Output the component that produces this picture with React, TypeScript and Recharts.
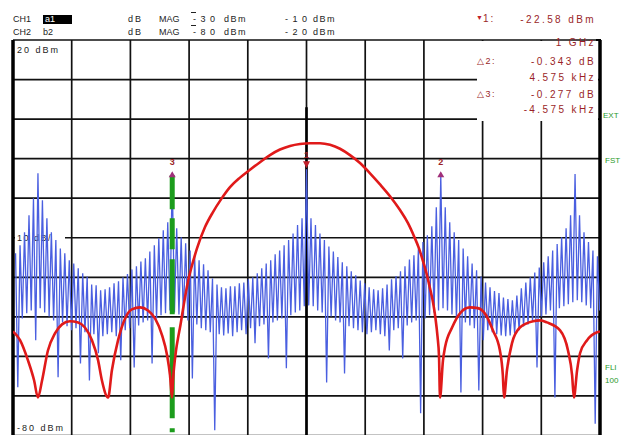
import React from 'react';
import {
  ComposedChart,
  Line,
  XAxis,
  YAxis,
  CartesianGrid,
  ReferenceLine,
  Scatter,
  Customized,
} from 'recharts';

// Frequency axis: offset from 1 GHz centre, in kHz (span 20 kHz, 2 kHz/div)
const xTicks = [-10, -8, -6, -4, -2, 0, 2, 4, 6, 8, 10];
// Amplitude axis: 20 dBm top, 10 dB/div, -80 dBm bottom
const yTicks = [-80, -70, -60, -50, -40, -30, -20, -10, 0, 10, 20];

// Sweep of the comb trace (CH1, blue)
const SWEEP_START = -9.9125; // kHz
const SWEEP_STEP = 0.1525; // kHz between comb lines

// upper value of each comb line (dBm)
const blueTops = [
  -33.9, -31.9, -28.6, -24.3, -20.0, -13.7, -20.5, -25.1, -28.6, -30.6,
  -32.7, -33.9, -35.7, -36.5, -37.7, -39.0, -39.8, -41.8, -42.0, -43.3,
  -43.0, -42.5, -41.5, -41.0, -40.0, -39.2, -38.0, -37.2, -36.0, -35.2,
  -33.5, -31.9, -30.1, -28.1, -26.1, -14.2, -27.6, -29.9, -31.4, -33.2,
  -34.4, -35.7, -36.7, -38.2, -40.3, -41.8, -42.5, -42.8, -42.3, -42.3,
  -41.5, -41.3, -40.5, -40.0, -39.0, -37.7, -36.5, -35.7, -34.2, -33.2,
  -31.9, -30.6, -28.9, -26.8, -25.1, -12.7, -25.1, -26.8, -28.9, -30.6,
  -32.2, -33.5, -34.9, -36.2, -37.2, -38.5, -39.5, -40.8, -41.5, -42.5,
  -43.0, -43.3, -42.8, -41.8, -40.5, -39.7, -38.5, -37.2, -35.5, -34.4,
  -32.7, -31.1, -29.4, -27.1, -22.3, -14.2, -22.3, -26.1, -28.6, -30.6,
  -32.7, -34.7, -36.5, -38.2, -39.8, -41.3, -42.5, -43.5, -44.0, -45.1,
  -45.5, -45.8, -44.6, -42.8, -41.3, -40.0, -38.8, -37.5, -36.2, -34.7,
  -33.2, -31.6, -29.9, -27.6, -24.3, -13.9, -24.3, -28.6, -31.1, -33.2,
  -34.7,
];

// lower value of each comb line (dBm)
const blueLows = [
  -67.8, -50.4, -49.1, -48.4, -55.9, -47.8, -48.9, -49.9, -50.9, -65.3,
  -51.4, -52.4, -53.4, -52.9, -61.8, -53.9, -66.1, -54.4, -59.2, -54.9,
  -54.4, -53.9, -54.9, -61.0, -53.4, -52.9, -62.8, -52.2, -51.4, -50.9,
  -61.8, -50.4, -49.6, -49.1, -48.4, -48.9, -49.4, -49.9, -50.9, -65.6,
  -51.9, -52.9, -53.4, -53.9, -78.7, -54.4, -54.7, -54.2, -54.9, -53.9,
  -53.4, -54.4, -52.9, -56.7, -52.4, -51.9, -60.5, -51.4, -50.9, -50.4,
  -63.0, -49.6, -48.9, -48.4, -47.3, -47.1, -47.3, -48.4, -48.9, -66.6,
  -49.9, -50.9, -51.4, -64.3, -52.4, -52.9, -53.4, -53.9, -54.4, -53.9,
  -53.4, -54.4, -54.9, -58.5, -53.4, -52.9, -60.5, -52.2, -51.4, -50.9,
  -74.4, -50.4, -49.6, -48.9, -48.4, -47.8, -48.4, -49.4, -50.4, -69.1,
  -51.4, -52.2, -52.9, -68.6, -55.9, -53.4, -53.9, -54.4, -54.7, -54.9,
  -54.7, -54.2, -53.4, -52.4, -51.9, -50.9, -62.8, -49.9, -49.4, -48.4,
  -70.4, -47.8, -47.3, -46.8, -46.3, -45.8, -46.3, -47.1, -47.8, -77.0,
  -48.4,
];

// CH2 (red) trace, [kHz, dBm]
const redTrace: [number, number][] = [
  [-10.0, -53.7], [-9.76, -55.9], [-9.49, -61.0], [-9.28, -66.1], [-9.15, -70.4],
  [-9.01, -66.1], [-8.81, -58.5], [-8.57, -54.2], [-8.33, -51.9], [-8.06, -51.1],
  [-7.78, -51.4], [-7.55, -52.7], [-7.31, -55.9], [-7.10, -61.0], [-6.97, -66.1],
  [-6.76, -70.4], [-6.63, -63.5], [-6.42, -55.9], [-6.18, -50.4], [-5.95, -48.1],
  [-5.67, -47.6], [-5.40, -48.4], [-5.16, -50.4], [-4.92, -54.7], [-4.75, -59.7],
  [-4.65, -64.8], [-4.583, -70.4],
  [-4.549, -66.1], [-4.515, -63.0], [-4.446, -58.5], [-4.378, -55.4], [-4.310, -52.7],
  [-4.174, -46.6], [-4.037, -41.0], [-3.901, -37.0], [-3.731, -32.7], [-3.458, -27.3],
  [-3.186, -23.5], [-2.913, -20.3], [-2.606, -17.2], [-2.266, -14.8], [-1.925, -12.8],
  [-1.584, -10.9], [-1.244, -9.1], [-0.903, -7.7], [-0.562, -6.8], [-0.221, -6.3],
  [0.119, -6.1], [0.460, -6.1], [0.801, -6.5], [1.141, -7.5], [1.482, -9.1],
  [1.823, -11.1], [2.164, -13.7], [2.504, -16.5], [2.845, -19.5], [3.186, -23.0],
  [3.458, -26.3], [3.663, -29.6], [3.833, -32.7], [3.969, -35.9], [4.106, -39.5],
  [4.208, -42.8], [4.310, -46.3], [4.395, -50.4], [4.463, -54.9], [4.515, -60.0],
  [4.549, -70.4],
  [4.65, -61.0], [4.72, -57.7], [4.96, -52.7], [5.23, -49.1], [5.57, -47.6],
  [5.84, -47.8], [6.12, -49.6], [6.35, -53.4], [6.59, -58.5], [6.69, -64.8],
  [6.73, -70.4], [6.83, -63.5], [7.00, -56.7], [7.27, -52.7], [7.72, -51.1],
  [7.96, -50.9], [8.19, -51.4], [8.64, -53.4], [8.91, -58.5], [9.05, -64.8],
  [9.11, -70.4], [9.22, -63.5], [9.32, -59.2], [9.56, -55.9], [9.90, -53.9],
  [10.0, -53.7],
];

// markers: number, frequency offset (kHz), level (dBm), symbol direction
const markerNames = ['1', '2', '3'];
const markerFreqs = [0, 4.575, -4.575];
const markerLevels = [-12.7, -14.2, -14.2];
const markerDirs = ['down', 'up', 'up'];

const blueData = blueTops.flatMap((top, i) => [
  { f: SWEEP_START + i * SWEEP_STEP, v: top },
  { f: SWEEP_START + (i + 0.5) * SWEEP_STEP, v: blueLows[i] },
]);
const redData = redTrace.map(([f, v]) => ({ f, v }));
const markerData = markerNames.map((n, i) => ({
  f: markerFreqs[i],
  v: markerLevels[i],
  n,
  dir: markerDirs[i],
}));

const MARK = '#9a1f28';

const MarkerShape = (props: any) => {
  const { cx, cy, payload } = props;
  if (cx == null || cy == null) return null;
  if (payload.dir === 'down') {
    return (
      <g>
        <text x={cx} y={cy - 11} textAnchor="middle" fontSize={9} fontFamily="Liberation Sans, Arial" fontWeight="bold" fill={MARK}>
          {payload.n}
        </text>
        <polygon points={`${cx - 3.5},${cy - 8} ${cx + 3.5},${cy - 8} ${cx},${cy - 1}`} fill="#c0202a" />
      </g>
    );
  }
  return (
    <g>
      <text x={cx} y={cy - 10} textAnchor="middle" fontSize={9} fontFamily="Liberation Sans, Arial" fontWeight="bold" fill={MARK}>
        {payload.n}
      </text>
      <polygon points={`${cx - 3.5},${cy + 2} ${cx + 3.5},${cy + 2} ${cx},${cy - 4}`} fill="#a0307a" />
    </g>
  );
};

const ScaleLabel = () => (
  <g>
    <rect x={15} y={232} width={50} height={11} fill="#fff" />
    <text x={17} y={241} fontSize={9} fontFamily="Liberation Sans, Arial" fill="#222" letterSpacing={1.5}>
      10 dB/
    </text>
  </g>
);

const txt = (s: string, left: number, top: number, extra: React.CSSProperties = {}) => (
  <div
    style={{
      position: 'absolute',
      left,
      top,
      fontSize: 9,
      lineHeight: '10px',
      whiteSpace: 'pre',
      color: '#222',
      ...extra,
    }}
  >
    {s}
  </div>
);

const rtxt = (s: string, right: number, top: number, extra: React.CSSProperties = {}) => (
  <div
    style={{
      position: 'absolute',
      right: 621 - right,
      top,
      fontSize: 10,
      lineHeight: '11px',
      whiteSpace: 'pre',
      color: MARK,
      letterSpacing: 2.4,
      ...extra,
    }}
  >
    {s}
  </div>
);

export default function App() {
  return (
    <div
      style={{
        position: 'absolute',
        left: 0,
        top: 0,
        width: 621,
        height: 435,
        overflow: 'hidden',
        background: '#fff',
        fontFamily: 'Liberation Sans, Arial, sans-serif',
      }}
    >
      <ComposedChart width={621} height={440} margin={{ top: 40, right: 21, bottom: 4.5, left: 13 }}>
        <XAxis type="number" dataKey="f" domain={[-10, 10]} ticks={xTicks} hide allowDataOverflow />
        <YAxis type="number" dataKey="v" domain={[-80, 20]} ticks={yTicks} hide allowDataOverflow />
        <CartesianGrid stroke="#111" strokeWidth={1.7} />
        <Customized component={ScaleLabel} />
        <ReferenceLine x={-10} stroke="#000" strokeWidth={3.5} />
        <ReferenceLine x={10} stroke="#000" strokeWidth={3.5} />
        <ReferenceLine
          segment={[{ x: 0, y: -80 }, { x: 0, y: 3 }]}
          stroke="#000"
          strokeWidth={2.6}
        />
        <Line
          data={blueData}
          dataKey="v"
          type="linear"
          stroke="#4a5fe0"
          strokeWidth={1.3}
          dot={false}
          isAnimationActive={false}
        />
        <ReferenceLine
          segment={[{ x: -4.575, y: -14.2 }, { x: -4.575, y: -80 }]}
          stroke="#1c9c1c"
          strokeWidth={5}
          strokeDasharray="34 9 31 10 55 13 91 10 4 20"
        />
        <Line
          data={redData}
          dataKey="v"
          type="monotone"
          stroke="#e01a1a"
          strokeWidth={2.6}
          dot={false}
          isAnimationActive={false}
        />
        <Scatter data={markerData} dataKey="v" shape={<MarkerShape />} isAnimationActive={false} />
      </ComposedChart>

      {/* header */}
      {txt('CH1', 13, 14)}
      <div style={{ position: 'absolute', left: 43, top: 15, width: 29, height: 9, background: '#000', color: '#fff', fontSize: 9, lineHeight: '9px', paddingLeft: 2, boxSizing: 'border-box' }}>a1</div>
      {txt('dB', 128, 14, { letterSpacing: 2 })}
      {txt('MAG', 159, 14)}
      <div style={{ position: 'absolute', left: 191, top: 12, width: 5, height: 1, background: '#222' }} />
      {txt('-30', 193, 14, { letterSpacing: 4.5 })}
      {txt('dBm', 224, 14, { letterSpacing: 1.5 })}
      {txt('-10', 285, 14, { letterSpacing: 4.5 })}
      {txt('dBm', 313, 14, { letterSpacing: 1.5 })}

      {txt('CH2', 13, 27)}
      {txt('b2', 43, 27)}
      {txt('dB', 128, 27, { letterSpacing: 2 })}
      {txt('MAG', 159, 27)}
      <div style={{ position: 'absolute', left: 191, top: 25, width: 5, height: 1, background: '#222' }} />
      {txt('-80', 193, 27, { letterSpacing: 4.5 })}
      {txt('dBm', 224, 27, { letterSpacing: 1.5 })}
      {txt('-20', 285, 27, { letterSpacing: 4.5 })}
      {txt('dBm', 313, 27, { letterSpacing: 1.5 })}

      {/* marker panel */}
      <div style={{ position: 'absolute', left: 477, top: 41, width: 121, height: 80, background: '#fff' }} />
      <div style={{ position: 'absolute', left: 596, top: 39, width: 5, height: 2, background: '#000' }} />
      {txt('▼', 476, 13, { color: '#c0202a', fontSize: 7 })}
      {txt('1:', 483, 14, { color: MARK, fontSize: 10, letterSpacing: 2 })}
      {rtxt('-22.58 dBm', 596, 14)}
      {rtxt('1 GHz', 596, 37)}
      {txt('△2:', 477, 56, { color: MARK, fontSize: 9, letterSpacing: 1.5 })}
      {rtxt('-0.343 dB', 596, 56)}
      {rtxt('4.575 kHz', 596, 72)}
      {txt('△3:', 477, 89, { color: MARK, fontSize: 9, letterSpacing: 1.5 })}
      {rtxt('-0.277 dB', 596, 89)}
      {rtxt('-4.575 kHz', 596, 104)}

      {/* scale labels */}
      {txt('20 dBm', 17, 45, { letterSpacing: 2 })}
      {txt('-80 dBm', 17, 423, { letterSpacing: 2 })}

      {/* status annotations */}
      {txt('EXT', 603, 111, { color: '#2a9a2a', fontSize: 8 })}
      {txt('FST', 605, 156, { color: '#2a9a2a', fontSize: 8 })}
      {txt('FLI', 605, 363, { color: '#2a9a2a', fontSize: 8 })}
      {txt('100', 605, 376, { color: '#2a9a2a', fontSize: 8 })}
    </div>
  );
}
